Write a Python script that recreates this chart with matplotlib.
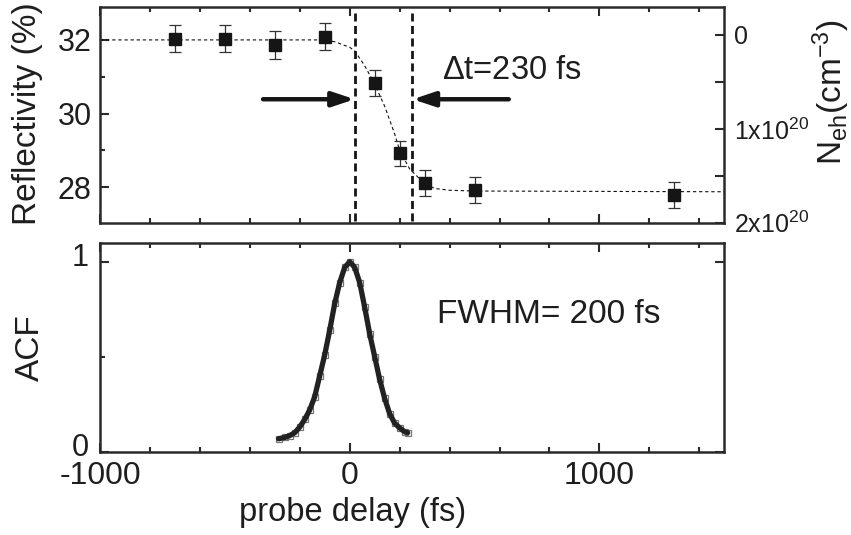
import matplotlib
matplotlib.use("Agg")
import matplotlib.pyplot as plt
import matplotlib.transforms as mtransforms
from matplotlib.ticker import MultipleLocator, FuncFormatter

plt.rcParams['font.family'] = ['Liberation Sans', 'DejaVu Sans']
plt.rcParams['mathtext.default'] = 'regular'

# ---- data: reflectivity vs probe delay ----
delay = [-700, -500, -300, -100, 100, 200, 300, 500, 1300]
refl = [32.03, 32.03, 31.86, 32.09, 30.84, 28.92, 28.11, 27.93, 27.79]
refl_err = [0.37, 0.37, 0.37, 0.37, 0.35, 0.34, 0.35, 0.36, 0.36]

# fit curve
fit_delay = [-1000, -100, -60, 0, 20, 60, 100, 140, 180, 200, 240, 300, 340, 400, 500, 1500]
fit_refl = [32.0, 32.0, 31.95, 31.8, 31.7, 31.3, 30.8, 30.2, 29.45, 29.0, 28.5, 28.1, 27.97, 27.92, 27.9, 27.88]

# vertical markers and arrows
vlines = [20, 250]
arrow_left = (-347, 20)
arrow_right = (637, 252)
arrow_y = 30.39

# ---- data: autocorrelation ----
acf_delay = [-285, -260, -240, -220, -200, -180, -160, -140, -120, -100, -80, -60, -40, -20,
             0, 20, 40, 60, 80, 100, 120, 140, 160, 180, 200, 220, 232]
acf_val = [0.068, 0.075, 0.085, 0.10, 0.13, 0.17, 0.22, 0.29, 0.40, 0.51, 0.64, 0.78, 0.89, 0.97,
           1.0, 0.97, 0.89, 0.76, 0.62, 0.50, 0.38, 0.28, 0.20, 0.15, 0.125, 0.105, 0.10]

# right axis tick labels
neh_ticks = [0, 1, 2]
neh_labels = ['0', r'$\mathregular{1x10^{20}}$', r'$\mathregular{2x10^{20}}$']

TXT = '#1e1e1e'
SP = '#2a2a2a'

fig = plt.figure(figsize=(8.51, 5.35), dpi=100)
ax1 = fig.add_axes([0.1175, 0.5837, 0.7336, 0.4037])
ax2 = fig.add_axes([0.1175, 0.1557, 0.7336, 0.3907])


def style(ax):
    for s in ax.spines.values():
        s.set_linewidth(1.8)
        s.set_color(SP)
    ax.xaxis.set_major_locator(MultipleLocator(1000))
    ax.xaxis.set_minor_locator(MultipleLocator(200))
    ax.tick_params(which='both', direction='in', color=SP, width=1.5,
                   top=True, labelcolor=TXT)
    ax.tick_params(which='major', length=6.5)
    ax.tick_params(which='minor', length=3.6)
    ax.set_xlim(-1000, 1500)


# ---- top panel ----
style(ax1)
ax1.set_ylim(27.04, 32.9)
ax1.yaxis.set_major_locator(MultipleLocator(2))
ax1.yaxis.set_minor_locator(MultipleLocator(1))
ax1.tick_params(axis='x', labelbottom=False)
ax1.tick_params(axis='y', labelsize=22, pad=6)

ax1.plot(fit_delay, fit_refl, color='#111', lw=0.8, ls=(0, (3, 2.5)))
ax1.errorbar(delay, refl, yerr=refl_err, fmt='s', ms=9, color='#151515',
             ecolor='#333', elinewidth=0.9, capsize=4, capthick=0.9, zorder=5)
for xv in vlines:
    ax1.axvline(xv, ymin=0.01, ymax=0.97, color='#151515', lw=2.0, ls=(0, (2.9, 1.6)))

ap = dict(arrowstyle='-|>,head_length=0.6,head_width=0.2', lw=3.2, color='#151515',
          shrinkA=0, shrinkB=0, mutation_scale=22)
ax1.annotate('', xy=(arrow_left[1], arrow_y), xytext=(arrow_left[0], arrow_y), arrowprops=ap)
ax1.annotate('', xy=(arrow_right[1], arrow_y), xytext=(arrow_right[0], arrow_y), arrowprops=ap)
ax1.text(368, 31.18, r'$\Delta$t=230 fs', fontsize=23.5, color=TXT, ha='left', va='center')

ax1r = ax1.twinx()
for s in ax1r.spines.values():
    s.set_visible(False)
ax1r.set_ylim(2.0, -0.30)
ax1r.yaxis.set_major_locator(MultipleLocator(1))
ax1r.yaxis.set_minor_locator(MultipleLocator(0.5))
ax1r.yaxis.set_major_formatter(FuncFormatter(
    lambda v, p: neh_labels[int(round(v))] if round(v) in neh_ticks and abs(v - round(v)) < 1e-6 else ''))
ax1r.tick_params(which='both', direction='in', color=SP, width=1.5, labelsize=18,
                 labelcolor=TXT, pad=7)
ax1r.tick_params(which='major', length=6.5)
ax1r.tick_params(which='minor', length=6.5)

# ---- bottom panel ----
style(ax2)
ax2.set_ylim(0, 1.1)
ax2.yaxis.set_major_locator(MultipleLocator(1))
ax2.yaxis.set_minor_locator(MultipleLocator(0.5))
ax2.tick_params(axis='y', right=True, labelsize=22, pad=8)
ax2.tick_params(axis='x', labelsize=23, pad=6.5)
ax2.xaxis.set_major_formatter(FuncFormatter(lambda v, p: f'{int(v)}'))

ax2.plot(acf_delay, acf_val, ls='none', marker='s', ms=5, mfc='none', mec='#777', mew=0.9)
ax2.plot(acf_delay, acf_val, color='#222', lw=3.8, solid_capstyle='round')
ax2.text(348, 0.72, 'FWHM= 200 fs', fontsize=24, color=TXT, ha='left', va='center')

# ---- axis labels ----
fig.text(28 / 851, 1 - 114 / 535, 'Reflectivity (%)', rotation=90, fontsize=24,
         color=TXT, ha='center', va='center')
fig.text(30 / 851, 1 - 347.5 / 535, 'ACF', rotation=90, fontsize=24,
         color=TXT, ha='center', va='center')
fig.text(353 / 851, 1 - 513 / 535, 'probe delay (fs)', fontsize=23.5,
         color=TXT, ha='center', va='center')
fig.text(831 / 851, 1 - 92 / 535, r'$\mathregular{N_{eh}(cm^{-3})}$', rotation=90,
         fontsize=24, color=TXT, ha='center', va='center')

# lift the bottom panel's y tick labels slightly, as in the reference
fig.canvas.draw()
lift = mtransforms.ScaledTranslation(0, 7 / 100, fig.dpi_scale_trans)
for t in ax2.yaxis.get_major_ticks():
    t.label1.set_transform(t.label1.get_transform() + lift)

fig.savefig('out.png', dpi=100)
